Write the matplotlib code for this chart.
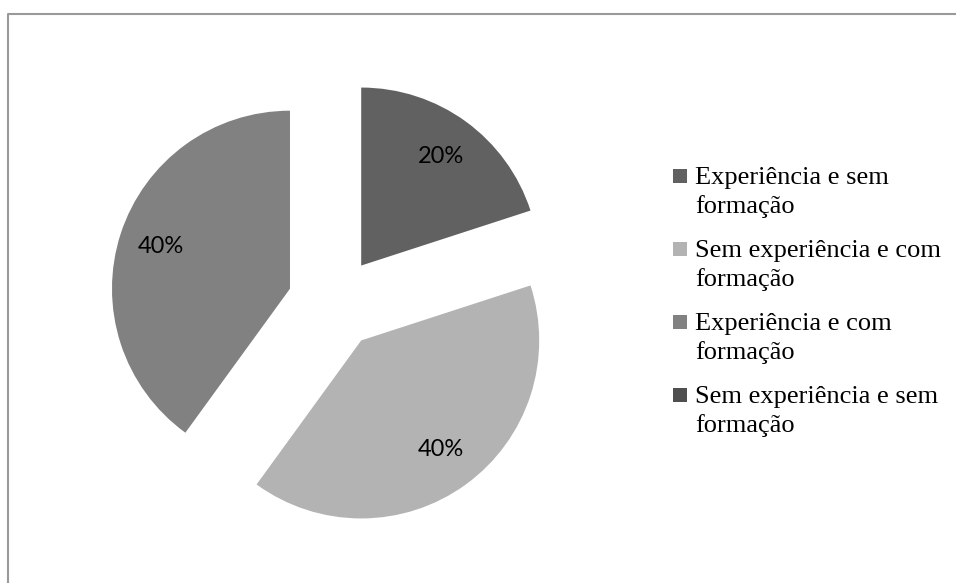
import matplotlib
matplotlib.use("Agg")
import matplotlib.pyplot as plt
from matplotlib.patches import Rectangle
from matplotlib.lines import Line2D

categories = ["Experiência e sem\nformação",
              "Sem experiência e com\nformação",
              "Experiência e com\nformação",
              "Sem experiência e sem\nformação"]
values = [20, 40, 40, 0]
colors = ["#616161", "#b3b3b3", "#818181", "#4f4f4f"]

W, H = 956, 583
fig = plt.figure(figsize=(W / 100, H / 100), dpi=100)

# pie axes: center (334,303) px, radius 178 px, limits +-1.3
R = 178.0
cx, cy = 334.0, 303.0
half = 1.3 * R
ax = fig.add_axes([(cx - half) / W, (H - cy - half) / H, 2 * half / W, 2 * half / H])

nz = [(v, c) for v, c in zip(values, colors) if v > 0]
vals = [v for v, c in nz]
cols = [c for v, c in nz]
wedges, texts, autotexts = ax.pie(
    vals, colors=cols, startangle=90, counterclock=False,
    explode=[0.26] * len(vals), autopct=lambda p: f"{p:.0f}%",
    pctdistance=0.76, wedgeprops=dict(linewidth=0),
    textprops=dict(fontfamily="Lato", fontsize=17, color="black"))
ax.set_xlim(-1.3, 1.3)
ax.set_ylim(-1.3, 1.3)
ax.set_aspect("equal")
ax.axis("off")

# legend drawn manually (marker aligned with first line)
base0 = 184.0
step = 73.0
line_gap = 29.0
for i, (lab, col) in enumerate(zip(categories, colors)):
    yb = base0 + i * step
    fig.patches.append(Rectangle((673 / W, 1 - (yb - 1) / H), 14 / W, 14 / H,
                                 transform=fig.transFigure, facecolor=col,
                                 edgecolor="none"))
    for j, line in enumerate(lab.split("\n")):
        fig.text(695 / W, 1 - (yb + j * line_gap) / H, line,
                 fontfamily="Liberation Serif", fontsize=19,
                 va="baseline", ha="left")

# outer border
fig.add_artist(Line2D([7.5 / W, 7.5 / W, 1.0], [0.0, 1 - 13.5 / H, 1 - 13.5 / H],
                      transform=fig.transFigure, color="#999999", linewidth=1.5))

fig.savefig("out.png", dpi=100)
